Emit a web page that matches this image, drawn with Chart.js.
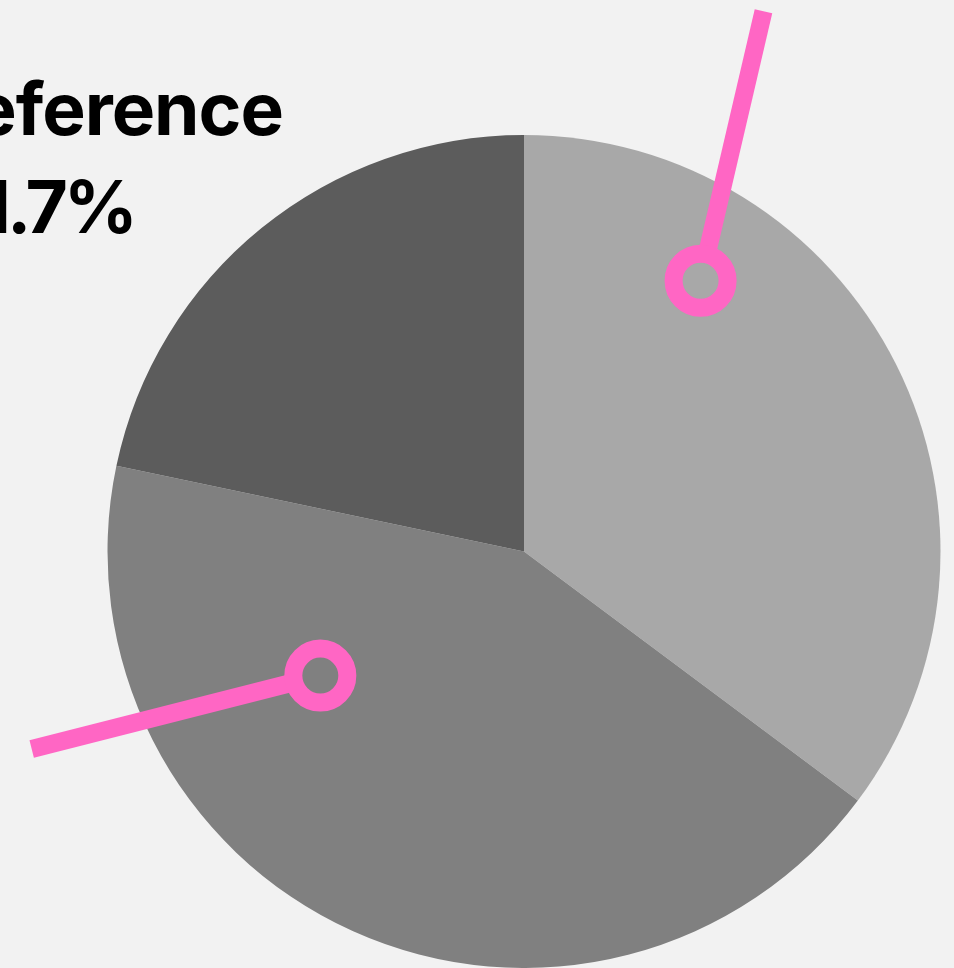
<!DOCTYPE html>
<html>
<head>
<meta charset="utf-8">
<script src="https://cdn.jsdelivr.net/npm/chart.js@4.4.0/dist/chart.umd.min.js"></script>
<style>
  html, body { margin: 0; padding: 0; background: #f2f2f2; }
  #wrap { width: 954px; height: 968px; }
</style>
</head>
<body>
<div id="wrap"><canvas id="pie" width="954" height="968"></canvas></div>
<script>
// slices, clockwise from 12 o'clock
const labels = ['Other A', 'Other B', 'Reference'];
const values = [35.2, 43.1, 21.7];
const colors = ['#a8a8a8', '#808080', '#5c5c5c'];

const titleLines = ['Reference', '21.7%'];
const pink = '#ff66c4';

// callouts: ring position and line end, as fractions of the radius from the centre
const callouts = [
  { ring: [0.424, -0.650], end: [0.575, -1.297] },
  { ring: [-0.489, 0.298], end: [-1.182, 0.474] }
];

const overlay = {
  id: 'overlay',
  afterDraw(chart) {
    const ctx = chart.ctx;
    const arc = chart.getDatasetMeta(0).data[0];
    const cx = arc.x, cy = arc.y, r = arc.outerRadius;

    // title text (cropped at the left edge)
    ctx.save();
    ctx.fillStyle = '#000';
    ctx.font = '700 73px Inter';
    ctx.textAlign = 'right';
    ctx.textBaseline = 'alphabetic';
    ctx.letterSpacing = '-1px';
    ctx.fillText(titleLines[0], 283, 135);
    ctx.letterSpacing = '-4px';
    ctx.fillText(titleLines[1], 134, 233);
    ctx.restore();

    // pink callouts
    ctx.save();
    ctx.strokeStyle = pink;
    ctx.lineCap = 'butt';
    callouts.forEach(c => {
      const rx = cx + c.ring[0] * r, ry = cy + c.ring[1] * r;
      const ex = cx + c.end[0] * r, ey = cy + c.end[1] * r;
      const ang = Math.atan2(ey - ry, ex - rx);
      const ringR = 27;
      ctx.lineWidth = 18;
      ctx.beginPath();
      ctx.moveTo(rx + Math.cos(ang) * ringR, ry + Math.sin(ang) * ringR);
      ctx.lineTo(ex, ey);
      ctx.stroke();
      ctx.beginPath();
      ctx.arc(rx, ry, ringR, 0, Math.PI * 2);
      ctx.stroke();
    });
    ctx.restore();
  }
};

new Chart(document.getElementById('pie'), {
  type: 'pie',
  data: {
    labels: labels,
    datasets: [{
      data: values,
      backgroundColor: colors,
      borderWidth: 0
    }]
  },
  options: {
    responsive: false,
    animation: false,
    layout: { padding: { top: 135, bottom: 0, left: 107, right: 13 } },
    plugins: {
      legend: { display: false },
      tooltip: { enabled: false },
      title: { display: false }
    }
  },
  plugins: [overlay]
});
</script>
</body>
</html>
